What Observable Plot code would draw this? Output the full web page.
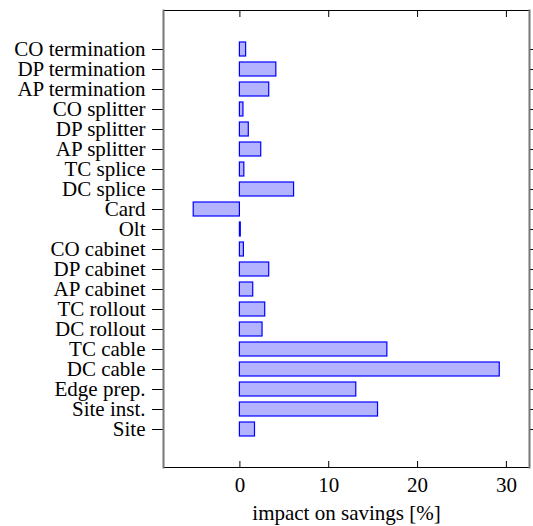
<!DOCTYPE html>
<html>
<head>
<meta charset="utf-8">
<script src="https://cdn.jsdelivr.net/npm/d3@7"></script>
<script src="https://cdn.jsdelivr.net/npm/@observablehq/plot@0.6"></script>
<style>
  html, body { margin: 0; padding: 0; background: #fff; }
  #chart svg { display: block; }
</style>
</head>
<body>
<div id="chart"></div>
<script>
const categories = ["CO termination", "DP termination", "AP termination", "CO splitter", "DP splitter", "AP splitter", "TC splice", "DC splice", "Card", "Olt", "CO cabinet", "DP cabinet", "AP cabinet", "TC rollout", "DC rollout", "TC cable", "DC cable", "Edge prep.", "Site inst.", "Site"];
const values = [0.7, 4.1, 3.3, 0.4, 1.0, 2.4, 0.5, 6.1, -5.2, 0.1, 0.45, 3.3, 1.5, 2.85, 2.55, 16.6, 29.25, 13.1, 15.55, 1.7];
const xTicks = [0, 10, 20, 30];
const xDomain = [-8.6, 32.6];
const xLabel = "impact on savings [%]";

const data = categories.map((c, i) => ({cat: c, value: values[i]}));
const FS = "21px";

const plot = Plot.plot({
  width: 533,
  height: 526,
  marginTop: 10,
  marginBottom: 59,
  marginLeft: 163,
  marginRight: 4,
  style: {fontFamily: "'Liberation Serif', 'Times New Roman', serif", fontSize: FS, color: "#000", background: "#fff"},
  x: {domain: xDomain, ticks: xTicks},
  y: {domain: categories, paddingInner: 0.3, paddingOuter: 1.39},
  marks: [
    Plot.barX(data, {x: "value", y: "cat", fill: "#b3b3ff", stroke: "#0000ff", strokeWidth: 1.2}),
    Plot.axisY({anchor: "left", tickSize: 11, tickPadding: 7, label: null, fontSize: FS}),
    Plot.axisY({anchor: "right", tickSize: 4, tickFormat: () => "", label: null}),
    Plot.axisX({anchor: "bottom", ticks: xTicks, tickSize: -6, tickPadding: 16, label: xLabel, labelAnchor: "center", labelArrow: "none", labelOffset: 52, fontSize: FS}),
    Plot.axisX({anchor: "top", ticks: xTicks, tickSize: -6, tickFormat: () => "", label: null}),
    Plot.frame({anchor: "top", stroke: "#000"}),
    Plot.frame({anchor: "bottom", stroke: "#000"}),
    Plot.frame({anchor: "left", stroke: "#777", strokeWidth: 2}),
    Plot.frame({anchor: "right", stroke: "#777", strokeWidth: 2})
  ]
});
document.getElementById("chart").appendChild(plot);
</script>
</body>
</html>
